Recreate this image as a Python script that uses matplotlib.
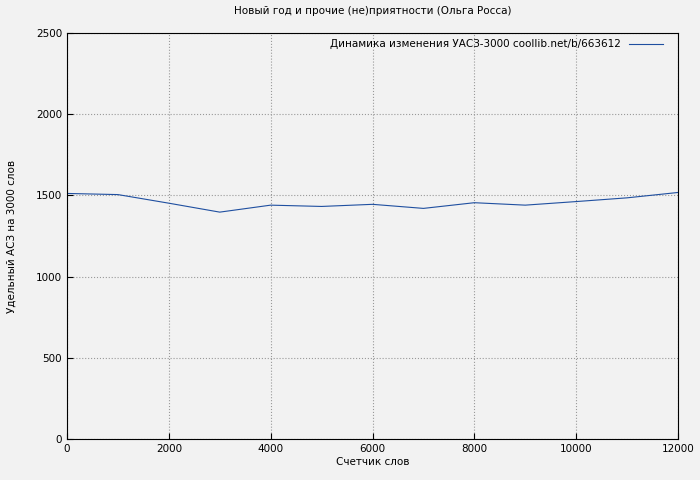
import matplotlib
matplotlib.use('Agg')
from matplotlib import pyplot

words = [0, 1000, 2000, 3000, 4000, 5000, 6000, 7000, 8000, 9000, 10000, 11000, 12000]
uas = [1512, 1505, 1452, 1397, 1440, 1432, 1445, 1420, 1455, 1440, 1462, 1485, 1518]

fig = pyplot.figure(figsize=(7, 4.8), dpi=100, facecolor='#f2f2f2')
ax = fig.add_axes([67/700, 1-439/480, 611/700, 406/480], facecolor='#f2f2f2')
ax.plot(words, uas, color='#1f4fa0', lw=0.8, label='Динамика изменения УАСЗ-3000 coollib.net/b/663612')
ax.set_xlim(0, 12000)
ax.set_ylim(0, 2500)
ax.set_xticks(range(0, 12001, 2000))
ax.set_yticks(range(0, 2501, 500))
ax.grid(True, color='#999999', linestyle=':', lw=0.8)
ax.tick_params(labelsize=7.5, direction='in', length=4)
ax.set_xlabel('Счетчик слов', fontsize=7.5, labelpad=2)
ax.set_ylabel('Удельный АСЗ на 3000 слов', fontsize=7.5, labelpad=14)
ax.set_title('Новый год и прочие (не)приятности (Ольга Росса)', fontsize=7.5, pad=14)
leg = ax.legend(loc='upper right', fontsize=7.5, frameon=False, markerfirst=False,
                handlelength=3.2, borderaxespad=0.2, bbox_to_anchor=(0.985, 1.0))
fig.savefig('out.png', dpi=100, facecolor=fig.get_facecolor())
